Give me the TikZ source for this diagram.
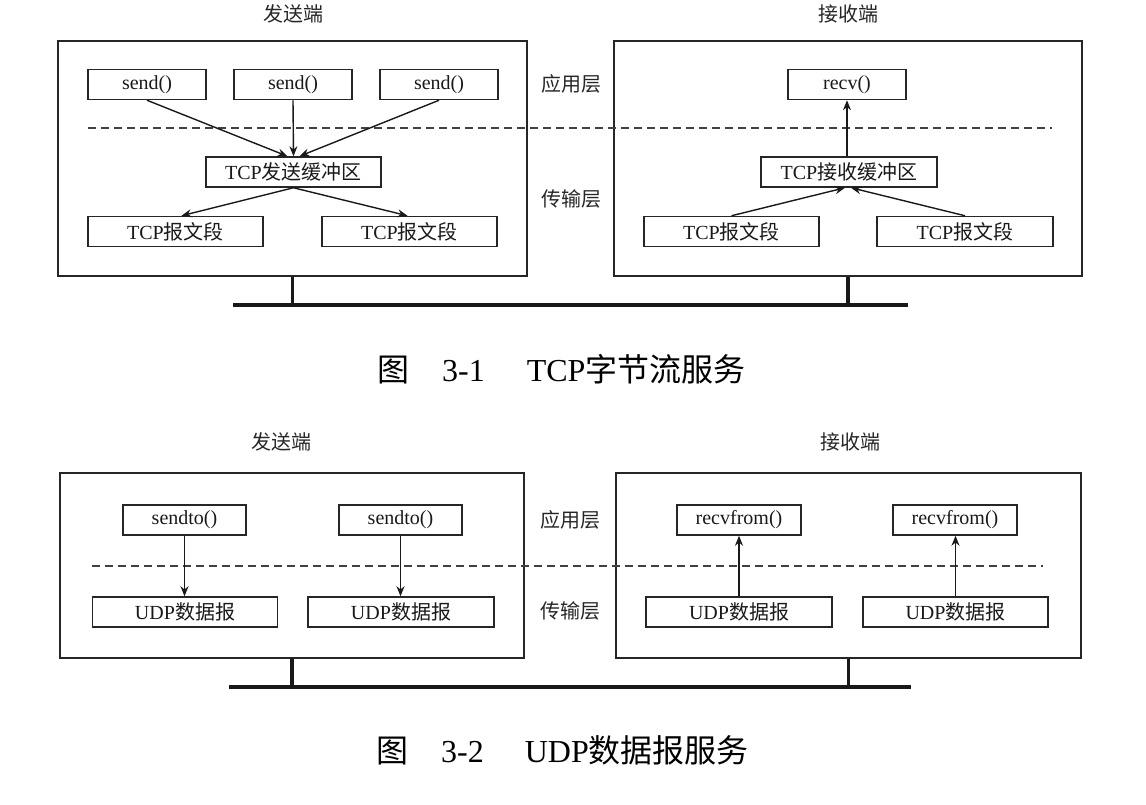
\documentclass[tikz,border=0pt]{standalone}
\usepackage{fontspec}
\setmainfont{Liberation Serif}
\newfontfamily\cjk{Noto Sans CJK SC}
\usetikzlibrary{arrows.meta,calc}

\tikzset{
  x=1pt, y=-1pt,
  outer/.style={draw=black!85, line width=1.7pt, inner sep=0pt},
  box/.style={draw=black!85, line width=1.5pt, inner sep=0pt, minimum height=30pt,
    font=\fontsize{20}{22}\selectfont, text=black!90},
  lbl/.style={font=\fontsize{20}{22}\cjk, text=black!85},
  figcap/.style={font=\fontsize{32}{34}\selectfont, anchor=west, inner sep=0pt},
  layer/.style={dashed, dash pattern=on 8pt off 5pt, line width=1.6pt, draw=black!75},
  arr/.style={-{Stealth[length=10pt,width=8pt]}, line width=1.4pt, draw=black!90},
  bus/.style={line width=3.8pt, draw=black!90},
}

\begin{document}
\begin{tikzpicture}
\useasboundingbox (0,0) rectangle (1146,804);

% ---------------- TCP byte stream ----------------
\node[lbl] (snd1) at (293,14) {发送端};
\node[lbl] (rcv1) at (848,14) {接收端};

\node[outer, minimum width=469pt, minimum height=235pt] (L1) at (292.5,158.5) {};
\node[outer, minimum width=468pt, minimum height=235pt] (R1) at (848,158.5) {};

\node[box, minimum width=118pt] (s1) at (147,84.5) {send()};
\node[box, minimum width=118pt] (s2) at (293,84.5) {send()};
\node[box, minimum width=118pt] (s3) at (439,84.5) {send()};
\node[box, minimum width=118pt] (rv) at (847,84.5) {recv()};

\node[box, minimum width=175pt] (sbuf) at (293.5,172) {TCP{\cjk 发送缓冲区}};
\node[box, minimum width=176pt] (rbuf) at (849,172) {TCP{\cjk 接收缓冲区}};

\node[box, minimum width=175pt] (g1) at (175.5,231.5) {TCP{\cjk 报文段}};
\node[box, minimum width=175pt] (g2) at (409.5,231.5) {TCP{\cjk 报文段}};
\node[box, minimum width=175pt] (g3) at (731.5,231.5) {TCP{\cjk 报文段}};
\node[box, minimum width=176pt] (g4) at (965,231.5) {TCP{\cjk 报文段}};

\node[lbl] (app1) at (571,84) {应用层};
\node[lbl] (trn1) at (571,199) {传输层};

\coordinate (d1a) at (88,128);
\coordinate (d1b) at (1052,128);
\draw[layer] (d1a) -- (d1b);

\draw[arr] (s1.south) -- ($(sbuf.north)+(-6,0)$);
\draw[arr] (s2.south) -- (sbuf.north);
\draw[arr] (s3.south) -- ($(sbuf.north)+(6,0)$);
\draw[arr] (sbuf.south) -- ($(g1.north)+(6,0)$);
\draw[arr] (sbuf.south) -- ($(g2.north)+(-2,0)$);

\draw[arr] (g3.north) -- ($(rbuf.south)+(-4,0)$);
\draw[arr] (g4.north) -- ($(rbuf.south)+(2,0)$);
\draw[arr] (rv.south |- rbuf.north) -- (rv.south);

\coordinate (b1l) at (233,305);
\coordinate (b1r) at (908,305);
\draw[bus] (b1l) -- (b1r);
\draw[bus] (L1.south) -- (L1.south |- b1l);
\draw[bus] (R1.south) -- (R1.south |- b1l);

\node[figcap] (c1) at (377,369) {{\cjk 图}\hspace{33pt}3-1\hspace{42pt}TCP{\cjk 字节流服务}};

% ---------------- UDP datagram ----------------
\node[lbl] (snd2) at (281,442) {发送端};
\node[lbl] (rcv2) at (850,442) {接收端};

\node[outer, minimum width=464pt, minimum height=185pt] (L2) at (292,565.5) {};
\node[outer, minimum width=465pt, minimum height=185pt] (R2) at (848.5,565.5) {};

\node[box, minimum width=123pt] (st1) at (184.5,520) {sendto()};
\node[box, minimum width=123pt] (st2) at (400.5,520) {sendto()};
\node[box, minimum width=124pt] (rf1) at (739,520) {recvfrom()};
\node[box, minimum width=124pt] (rf2) at (955,520) {recvfrom()};

\node[box, minimum width=185pt] (u1) at (185,612) {UDP{\cjk 数据报}};
\node[box, minimum width=186pt] (u2) at (401,612) {UDP{\cjk 数据报}};
\node[box, minimum width=186pt] (u3) at (739,612) {UDP{\cjk 数据报}};
\node[box, minimum width=185pt] (u4) at (955.5,612) {UDP{\cjk 数据报}};

\node[lbl] (app2) at (570,520) {应用层};
\node[lbl] (trn2) at (570,611) {传输层};

\coordinate (d2a) at (92,566);
\coordinate (d2b) at (1043,566);
\draw[layer] (d2a) -- (d2b);

\draw[arr] (st1.south) -- (st1.south |- u1.north);
\draw[arr] (st2.south) -- (st2.south |- u2.north);
\draw[arr] (u3.north) -- (u3.north |- rf1.south);
\draw[arr] (u4.north) -- (u4.north |- rf2.south);

\coordinate (b2l) at (229,687);
\coordinate (b2r) at (911,687);
\draw[bus] (b2l) -- (b2r);
\draw[bus] (L2.south) -- (L2.south |- b2l);
\draw[bus] (R2.south) -- (R2.south |- b2l);

\node[figcap] (c2) at (376,750) {{\cjk 图}\hspace{33pt}3-2\hspace{41pt}UDP{\cjk 数据报服务}};
\end{tikzpicture}
\end{document}
